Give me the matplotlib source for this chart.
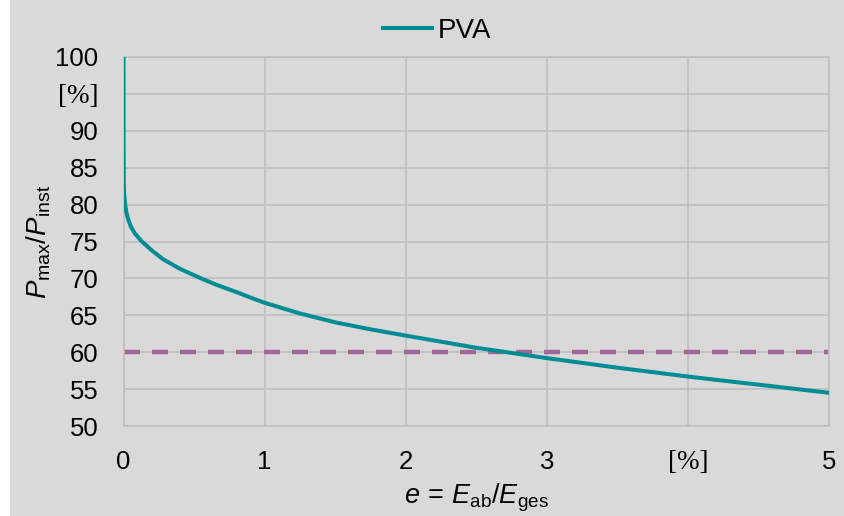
import matplotlib
matplotlib.use('Agg')
import matplotlib.pyplot as plt
from matplotlib.patches import Rectangle

plt.rcParams['font.family'] = ['Liberation Sans', 'DejaVu Sans']
plt.rcParams['mathtext.fontset'] = 'custom'
plt.rcParams['mathtext.rm'] = 'Liberation Sans'
plt.rcParams['mathtext.it'] = 'Liberation Sans:italic'

# values
e_share = [0, 0.0005, 0.002, 0.005, 0.01, 0.02, 0.03, 0.05, 0.08, 0.13,
           0.2, 0.28, 0.4, 0.55, 0.65, 0.8, 0.9, 1, 1.25, 1.5, 1.75,
           2, 2.5, 3, 3.5, 4, 4.5, 5]
p_max = [100, 88, 83, 81.3, 80.3, 79.0, 78.2, 77.1, 76.1, 75.0,
         73.8, 72.6, 71.3, 70.0, 69.2, 68.15, 67.4, 66.7, 65.25, 64.05, 63.1,
         62.25, 60.6, 59.2, 57.9, 56.7, 55.6, 54.5]
limit_value = 60
x_ticks = [0, 1, 2, 3, 4, 5]
x_labels = ['0', '1', '2', '3', '[%]', '5']
y_ticks = [50, 55, 60, 65, 70, 75, 80, 85, 90, 95, 100]
y_labels = ['50', '55', '60', '65', '70', '75', '80', '85', '90', '[%]', '100']

BG = '#d9d9d9'
GRID = '#bfbfbf'
TEAL = '#008c95'
PURPLE = '#a0689a'

fig = plt.figure(figsize=(8.44, 5.16), dpi=100)
fig.patch.set_facecolor('white')
fig.patches.append(Rectangle((10 / 844, 0), 1, 1, transform=fig.transFigure,
                             facecolor=BG, edgecolor='none', zorder=-10))

ax = fig.add_axes([123.5 / 844, 1 - 426 / 516, (829 - 123.5) / 844, (426 - 57) / 516])
ax.set_facecolor(BG)

ax.plot(e_share, p_max, color=TEAL, lw=2.9, label='PVA', zorder=3,
        solid_capstyle='butt', solid_joinstyle='round')
ax.axhline(limit_value, color=PURPLE, lw=3.2, ls=(0, (3.6, 2.7)), zorder=2)

ax.set_xlim(0, 5)
ax.set_ylim(50, 100)
ax.set_xticks(x_ticks)
ax.set_xticklabels(x_labels)
ax.set_yticks(y_ticks)
ax.set_yticklabels(y_labels)
ax.tick_params(length=0, labelsize=18.5, colors='black')
ax.tick_params(axis='x', pad=17)
ax.tick_params(axis='y', pad=18)
for lab in ax.get_xticklabels() + ax.get_yticklabels():
    if lab.get_text() == '[%]':
        lab.set_family(['Liberation Serif'])
        lab.set_fontsize(19.5)

ax.grid(True, color=GRID, lw=1.2)
ax.set_axisbelow(True)
for sp in ax.spines.values():
    sp.set_color(GRID)
    sp.set_linewidth(1.2)

ax.set_ylabel(r'$P_\mathrm{max}/P_\mathrm{inst}$', fontsize=20, labelpad=2)
fig.text(476 / 844, 1 - 503 / 516, r'$e\,=\,E_\mathrm{ab}/E_\mathrm{ges}$',
         fontsize=19.5, ha='center', va='baseline')

fig.legend(loc='upper center', bbox_to_anchor=(436 / 844, 1.014), frameon=False,
           fontsize=20, handlelength=1.9, handletextpad=0.12)

fig.savefig('out.png', dpi=100, facecolor=fig.get_facecolor())
